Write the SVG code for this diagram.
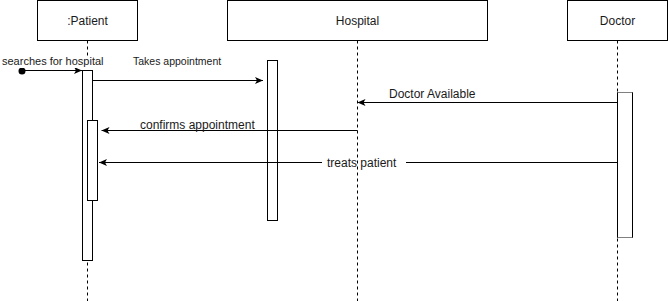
<svg xmlns="http://www.w3.org/2000/svg" width="668" height="301" viewBox="0 0 668 301">
  <style>
    .box { fill: #fff; stroke: #000; stroke-width: 1; }
    .act { fill: #fff; stroke: #000; stroke-width: 1; }
    .life { fill: none; stroke: #000; stroke-width: 1; stroke-dasharray: 3 3; }
    .msg { fill: none; stroke: #000; stroke-width: 1; marker-end: url(#arrow); }
    .head { font-family: "Liberation Sans", Arial, sans-serif; font-size: 12px; fill: #1a1a1a; text-anchor: middle; }
    .lbl { font-family: "Liberation Sans", Arial, sans-serif; font-size: 12px; fill: #1a1a1a; }
  </style>
  <defs>
    <marker id="arrow" viewBox="0 0 8 7" refX="8" refY="3.5" markerWidth="8" markerHeight="7" markerUnits="userSpaceOnUse" orient="auto">
      <path d="M0,0 L8,3.5 L0,7 L2,3.5 Z" fill="#000"/>
    </marker>
  </defs>
  <rect width="668" height="301" fill="#fff"/>

  <!-- participants -->
  <g id="patient">
    <rect class="box" x="37.5" y="0.5" width="100" height="40"/>
    <text class="head" x="87.5" y="25">:Patient</text>
    <line class="life" x1="87.5" y1="40.5" x2="87.5" y2="301"/>
    <rect class="act" x="82.5" y="70.5" width="10" height="190"/>
    <rect class="act" x="87.5" y="120.5" width="10" height="80"/>
  </g>

  <g id="hospital">
    <rect class="box" x="227.5" y="0.5" width="260" height="40"/>
    <text class="head" x="357.5" y="25">Hospital</text>
    <line class="life" x1="357.5" y1="40.5" x2="357.5" y2="301"/>
    <rect class="act" x="267.5" y="60.5" width="10" height="160"/>
  </g>

  <g id="doctor">
    <rect class="box" x="567.5" y="0.5" width="100" height="40"/>
    <text class="head" x="617.5" y="25">Doctor</text>
    <line class="life" x1="617.5" y1="40.5" x2="617.5" y2="301"/>
    <rect class="act" x="617.5" y="92.5" width="15" height="145"/>
    <line x1="617.5" y1="92.5" x2="632.5" y2="92.5" stroke="#808080"/>
    <line x1="617.5" y1="237.5" x2="632.5" y2="237.5" stroke="#808080"/>
  </g>

  <!-- messages -->
  <g id="connectors">
    <circle cx="22" cy="71" r="3.5" fill="#000"/>
    <line class="msg" x1="22" y1="70.5" x2="82" y2="70.5"/>
    <rect x="1" y="56" width="103" height="12" fill="#fff"/>
    <text class="lbl" x="2" y="65" style="font-size:11px">searches for hospital</text>

    <line class="msg" x1="92.5" y1="80.5" x2="263" y2="80.5"/>
    <text class="lbl" x="133" y="65" style="font-size:10.5px">Takes appointment</text>

    <line class="msg" x1="617.5" y1="102.5" x2="357.5" y2="102.5"/>
    <text class="lbl" x="389" y="98">Doctor Available</text>

    <line class="msg" x1="357.5" y1="130.5" x2="101.5" y2="130.5"/>
    <text class="lbl" x="140" y="129">confirms appointment</text>

    <line class="msg" x1="617.5" y1="162.5" x2="99" y2="162.5"/>
    <!-- label backing, split so the Hospital lifeline stays visible -->
    <rect x="322" y="155" width="35" height="14" fill="#fff"/>
    <rect x="358" y="155" width="48" height="14" fill="#fff"/>
    <text class="lbl" x="327" y="166.5">treats patient</text>
  </g>
</svg>
